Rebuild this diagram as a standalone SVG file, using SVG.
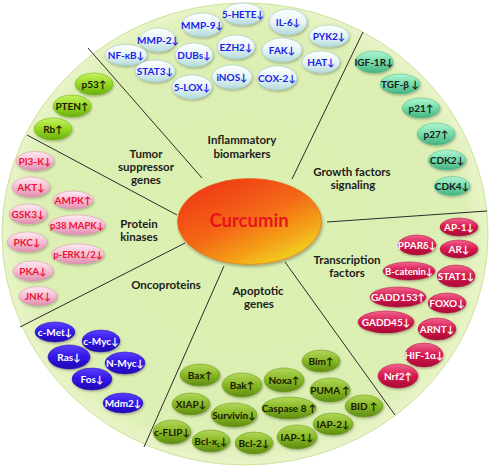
<svg xmlns="http://www.w3.org/2000/svg" width="490" height="469" viewBox="0 0 490 469">
<defs>
<style>
text{font-family:Lato,"Liberation Sans",Arial,"DejaVu Sans",sans-serif;font-weight:bold;text-anchor:middle}
.p text{font-size:10px}
.p text.w{font-size:9.5px}
.p ellipse{filter:url(#sh)}
.sec{font-size:11.5px;fill:#1c1c1c}
.inf ellipse{fill:url(#gInf);stroke:#9fc9c9;stroke-width:.6}
.inf text{fill:#1c1ce8}
.ts ellipse{fill:url(#gTs);stroke:#6fb512;stroke-width:.5}
.ts text{fill:#1a1a00}
.pk ellipse{fill:url(#gPk);stroke:#d890ae;stroke-width:.5}
.pk text{fill:#ee1234}
.onc ellipse{fill:url(#gOnc);stroke:#2410b0;stroke-width:.5}
.onc text{fill:#ffffff}
.apo ellipse{fill:url(#gApo);stroke:#6b951a;stroke-width:.5}
.apo text{fill:#1a1a00}
.tf ellipse{fill:url(#gTf);stroke:#b0103c;stroke-width:.5}
.tf text{fill:#ffffff}
.gf ellipse{fill:url(#gGf);stroke:#4fb888;stroke-width:.5}
.gf text{fill:#1a1a1a}
#connectors line{stroke:#2a2a2a;stroke-width:1}
</style>
<filter id="sh" x="-20%" y="-20%" width="140%" height="150%"><feDropShadow dx="0.8" dy="1.4" stdDeviation="0.9" flood-color="#000" flood-opacity="0.28"/></filter>
<filter id="sh2" x="-10%" y="-10%" width="120%" height="130%"><feDropShadow dx="1" dy="2" stdDeviation="1.5" flood-color="#000" flood-opacity="0.3"/></filter>
<linearGradient id="gInf" x1="0" y1="0" x2="0" y2="1"><stop offset="0" stop-color="#ffffff"/><stop offset="0.55" stop-color="#e4f3f3"/><stop offset="1" stop-color="#b2dada"/></linearGradient>
<linearGradient id="gTs" x1="0" y1="0" x2="0" y2="1"><stop offset="0" stop-color="#c6f266"/><stop offset="0.5" stop-color="#96d922"/><stop offset="1" stop-color="#68ae0e"/></linearGradient>
<linearGradient id="gPk" x1="0" y1="0" x2="0" y2="1"><stop offset="0" stop-color="#fdeaf2"/><stop offset="0.5" stop-color="#f5bfd4"/><stop offset="1" stop-color="#e08eb0"/></linearGradient>
<linearGradient id="gOnc" x1="0" y1="0" x2="0" y2="1"><stop offset="0" stop-color="#5a40ff"/><stop offset="0.5" stop-color="#3216e6"/><stop offset="1" stop-color="#2008b0"/></linearGradient>
<linearGradient id="gApo" x1="0" y1="0" x2="0" y2="1"><stop offset="0" stop-color="#b2d85a"/><stop offset="0.5" stop-color="#88b826"/><stop offset="1" stop-color="#5e8c12"/></linearGradient>
<linearGradient id="gTf" x1="0" y1="0" x2="0" y2="1"><stop offset="0" stop-color="#f06490"/><stop offset="0.5" stop-color="#d8184e"/><stop offset="1" stop-color="#a80a36"/></linearGradient>
<linearGradient id="gGf" x1="0" y1="0" x2="0" y2="1"><stop offset="0" stop-color="#b0f4d2"/><stop offset="0.5" stop-color="#74dcaa"/><stop offset="1" stop-color="#44b280"/></linearGradient>
<linearGradient id="gCur" x1="0.15" y1="0.1" x2="0.85" y2="1"><stop offset="0" stop-color="#f03a12"/><stop offset="0.45" stop-color="#f46a12"/><stop offset="0.75" stop-color="#f4a81a"/><stop offset="1" stop-color="#f0e424"/></linearGradient>
<radialGradient id="gBg" cx="0.5" cy="0.5" r="0.5"><stop offset="0" stop-color="#daf0b0"/><stop offset="0.9" stop-color="#ddefb4"/><stop offset="1" stop-color="#e8f4c8"/></radialGradient>
</defs>
<rect width="490" height="469" fill="#ffffff"/>
<ellipse id="background" cx="245" cy="234" rx="243" ry="231" fill="url(#gBg)" stroke="#cde29a" stroke-width="1"/>

<g id="connectors">
<line x1="88" y1="48" x2="202" y2="178"/>
<line x1="363" y1="32" x2="292" y2="179"/>
<line x1="327" y1="222" x2="487" y2="211"/>
<line x1="285" y1="262" x2="395" y2="415"/>
<line x1="224" y1="266" x2="144" y2="447"/>
<line x1="185" y1="243" x2="20" y2="327"/>
<line x1="27" y1="135" x2="177" y2="215"/>
</g>

<g id="curcumin">
<ellipse cx="249.5" cy="221.5" rx="72" ry="43" fill="url(#gCur)" stroke="#e86a10" stroke-width="0.6" filter="url(#sh2)"/>
<text x="249" y="227" font-size="18.5" fill="#e8141c" font-family="'Liberation Sans',Arial,sans-serif">Curcumin</text>
</g>

<g id="labels">
<text class="sec" x="242" y="144">Inflammatory</text>
<text class="sec" x="242" y="158">biomarkers</text>
<text class="sec" x="146" y="158">Tumor</text>
<text class="sec" x="146" y="171">suppressor</text>
<text class="sec" x="146" y="184">genes</text>
<text class="sec" x="352" y="176">Growth factors</text>
<text class="sec" x="353" y="189">signaling</text>
<text class="sec" x="347" y="264">Transcription</text>
<text class="sec" x="347" y="277">factors</text>
<text class="sec" x="139" y="228">Protein</text>
<text class="sec" x="139" y="241">kinases</text>
<text class="sec" x="166" y="289">Oncoproteins</text>
<text class="sec" x="258" y="295">Apoptotic</text>
<text class="sec" x="259" y="308">genes</text>
</g>

<g id="inflammatory">
<g id="n-mmp9" class="p inf"><ellipse cx="202" cy="25" rx="20" ry="12"/><text x="202" y="28.5">MMP-9↓</text></g>
<g id="n-5hete" class="p inf"><ellipse cx="243" cy="14" rx="20" ry="11"/><text x="243" y="17.5">5-HETE↓</text></g>
<g id="n-il6" class="p inf"><ellipse cx="288" cy="22" rx="19" ry="13"/><text x="288" y="25.5">IL-6↓</text></g>
<g id="n-pyk2" class="p inf"><ellipse cx="329" cy="36" rx="20" ry="11"/><text x="329" y="39.5">PYK2↓</text></g>
<g id="n-mmp2" class="p inf"><ellipse cx="158" cy="40" rx="18" ry="12"/><text x="158" y="43.5">MMP-2↓</text></g>
<g id="n-ezh2" class="p inf"><ellipse cx="236" cy="47" rx="19" ry="12"/><text x="236" y="50.5">EZH2↓</text></g>
<g id="n-fak" class="p inf"><ellipse cx="282" cy="50" rx="20" ry="12"/><text x="282" y="53.5">FAK↓</text></g>
<g id="n-hat" class="p inf"><ellipse cx="321" cy="62" rx="19" ry="11"/><text x="321" y="65.5">HAT↓</text></g>
<g id="n-nfkb" class="p inf"><ellipse cx="126" cy="55" rx="21" ry="10.5"/><text x="126" y="58.5">NF-κB↓</text></g>
<g id="n-dubs" class="p inf"><ellipse cx="194" cy="55" rx="19" ry="12"/><text x="194" y="58.5">DUBs↓</text></g>
<g id="n-stat3" class="p inf"><ellipse cx="155" cy="71" rx="20" ry="11"/><text x="155" y="74.5">STAT3↓</text></g>
<g id="n-inos" class="p inf"><ellipse cx="232" cy="77" rx="20" ry="12"/><text x="232" y="80.5">iNOS↓</text></g>
<g id="n-cox2" class="p inf"><ellipse cx="277" cy="78" rx="20" ry="12"/><text x="277" y="81.5">COX-2↓</text></g>
<g id="n-5lox" class="p inf"><ellipse cx="192" cy="87" rx="20" ry="12"/><text x="192" y="90.5">5-LOX↓</text></g>
</g>

<g id="tumor-suppressor">
<g id="n-p53" class="p ts"><ellipse cx="94" cy="84" rx="19" ry="11"/><text x="94" y="87.5">p53↑</text></g>
<g id="n-pten" class="p ts"><ellipse cx="72" cy="106" rx="19" ry="11"/><text x="72" y="109.5">PTEN↑</text></g>
<g id="n-rb" class="p ts"><ellipse cx="53" cy="129" rx="19" ry="11"/><text x="53" y="132.5">Rb↑</text></g>
</g>

<g id="protein-kinases">
<g id="n-pi3k" class="p pk"><ellipse cx="35" cy="161" rx="19" ry="9.5"/><text x="35" y="164.5">PI3-K↓</text></g>
<g id="n-akt" class="p pk"><ellipse cx="31" cy="187" rx="19" ry="10"/><text x="31" y="190.5">AKT↓</text></g>
<g id="n-gsk3" class="p pk"><ellipse cx="28" cy="214" rx="19" ry="10"/><text x="28" y="217.5">GSK3↓</text></g>
<g id="n-pkc" class="p pk"><ellipse cx="27" cy="242" rx="20" ry="10"/><text x="27" y="245.5">PKC↓</text></g>
<g id="n-pka" class="p pk"><ellipse cx="33" cy="271" rx="20" ry="10"/><text x="33" y="274.5">PKA↓</text></g>
<g id="n-jnk" class="p pk"><ellipse cx="38" cy="296" rx="19" ry="9.5"/><text x="38" y="299.5">JNK↓</text></g>
<g id="n-ampk" class="p pk"><ellipse cx="73" cy="200" rx="20" ry="9"/><text x="73" y="203.5">AMPK↑</text></g>
<g id="n-p38" class="p pk"><ellipse cx="77" cy="225" rx="28" ry="10"/><text class="w" x="77" y="228.5">p38 MAPK↓</text></g>
<g id="n-perk" class="p pk"><ellipse cx="78" cy="254" rx="26" ry="10"/><text class="w" x="78" y="257.5">p-ERK1/2↓</text></g>
</g>

<g id="oncoproteins">
<g id="n-cmet" class="p onc"><ellipse cx="55" cy="332" rx="20" ry="10"/><text x="55" y="335.5">c-Met↓</text></g>
<g id="n-cmyc" class="p onc"><ellipse cx="101" cy="341" rx="19" ry="11"/><text x="101" y="344.5">c-Myc↓</text></g>
<g id="n-ras" class="p onc"><ellipse cx="69" cy="357" rx="21" ry="12"/><text x="69" y="360.5">Ras↓</text></g>
<g id="n-nmyc" class="p onc"><ellipse cx="125" cy="363" rx="20" ry="11"/><text x="125" y="366.5">N-Myc↓</text></g>
<g id="n-fos" class="p onc"><ellipse cx="92" cy="379" rx="20" ry="11"/><text x="92" y="382.5">Fos↓</text></g>
<g id="n-mdm2" class="p onc"><ellipse cx="123" cy="403" rx="20" ry="10"/><text x="123" y="406.5">Mdm2↓</text></g>
</g>

<g id="apoptotic">
<g id="n-bax" class="p apo"><ellipse cx="200" cy="375" rx="20" ry="11"/><text x="200" y="378.5">Bax↑</text></g>
<g id="n-bak" class="p apo"><ellipse cx="242" cy="385" rx="20" ry="12"/><text x="242" y="388.5">Bak↑</text></g>
<g id="n-noxa" class="p apo"><ellipse cx="284" cy="380" rx="20" ry="12"/><text x="284" y="383.5">Noxa↑</text></g>
<g id="n-bim" class="p apo"><ellipse cx="321" cy="361" rx="19" ry="11"/><text x="321" y="364.5">Bim↑</text></g>
<g id="n-puma" class="p apo"><ellipse cx="330" cy="390" rx="20" ry="12"/><text x="330" y="393.5">PUMA ↑</text></g>
<g id="n-bid" class="p apo"><ellipse cx="364" cy="406" rx="19" ry="11"/><text x="364" y="409.5">BID ↑</text></g>
<g id="n-xiap" class="p apo"><ellipse cx="191" cy="404" rx="19" ry="11"/><text x="191" y="407.5">XIAP↓</text></g>
<g id="n-survivin" class="p apo"><ellipse cx="234" cy="415" rx="23" ry="12"/><text x="234" y="418.5">Survivin↓</text></g>
<g id="n-casp8" class="p apo"><ellipse cx="289" cy="408" rx="27" ry="11"/><text x="289" y="411.5">Caspase 8 ↑</text></g>
<g id="n-iap2" class="p apo"><ellipse cx="333" cy="424" rx="20" ry="11"/><text x="333" y="427.5">IAP-2↓</text></g>
<g id="n-cflip" class="p apo"><ellipse cx="172" cy="432" rx="19" ry="12"/><text x="172" y="435.5">c-FLIP↓</text></g>
<g id="n-bclxl" class="p apo"><ellipse cx="211" cy="441" rx="19" ry="11"/><text x="211" y="444.5">Bcl-x<tspan font-size="6" dy="2">L</tspan><tspan dy="-2">↓</tspan></text></g>
<g id="n-bcl2" class="p apo"><ellipse cx="254" cy="443" rx="19" ry="11"/><text x="254" y="446.5">Bcl-2↓</text></g>
<g id="n-iap1" class="p apo"><ellipse cx="297" cy="437" rx="20" ry="12"/><text x="297" y="440.5">IAP-1↓</text></g>
</g>

<g id="transcription-factors">
<g id="n-ap1" class="p tf"><ellipse cx="459" cy="227" rx="19" ry="9"/><text x="459" y="230.5">AP-1↓</text></g>
<g id="n-ppard" class="p tf"><ellipse cx="417" cy="245" rx="19" ry="10"/><text x="417" y="248.5">PPARδ↓</text></g>
<g id="n-ar" class="p tf"><ellipse cx="459" cy="249" rx="19" ry="9"/><text x="459" y="252.5">AR↓</text></g>
<g id="n-bcat" class="p tf"><ellipse cx="409" cy="271" rx="26" ry="9"/><text class="w" x="409" y="274.5">B-catenin↓</text></g>
<g id="n-stat1" class="p tf"><ellipse cx="456" cy="276" rx="19" ry="11"/><text x="456" y="279.5">STAT1↓</text></g>
<g id="n-gadd153" class="p tf"><ellipse cx="398" cy="297" rx="28" ry="10"/><text x="398" y="300.5">GADD153↑</text></g>
<g id="n-foxo" class="p tf"><ellipse cx="447" cy="303" rx="19" ry="10"/><text x="447" y="306.5">FOXO↓</text></g>
<g id="n-gadd45" class="p tf"><ellipse cx="386" cy="322" rx="28" ry="11"/><text x="386" y="325.5">GADD45↓</text></g>
<g id="n-arnt" class="p tf"><ellipse cx="437" cy="329" rx="19" ry="11"/><text x="437" y="332.5">ARNT↓</text></g>
<g id="n-hif" class="p tf"><ellipse cx="424" cy="355" rx="19" ry="12"/><text x="424" y="358.5">HIF-1α↓</text></g>
<g id="n-nrf2" class="p tf"><ellipse cx="398" cy="376" rx="20" ry="12"/><text x="398" y="379.5">Nrf2↑</text></g>
</g>

<g id="growth-factors">
<g id="n-igf1r" class="p gf"><ellipse cx="374" cy="62" rx="19" ry="11"/><text x="374" y="65.5">IGF-1R↓</text></g>
<g id="n-tgfb" class="p gf"><ellipse cx="400" cy="84" rx="20" ry="10"/><text x="400" y="87.5">TGF-β ↓</text></g>
<g id="n-p21" class="p gf"><ellipse cx="421" cy="108" rx="19" ry="10"/><text x="421" y="111.5">p21↑</text></g>
<g id="n-p27" class="p gf"><ellipse cx="436" cy="134" rx="19" ry="11"/><text x="436" y="137.5">p27↑</text></g>
<g id="n-cdk2" class="p gf"><ellipse cx="447" cy="160" rx="19" ry="10"/><text x="447" y="163.5">CDK2↓</text></g>
<g id="n-cdk4" class="p gf"><ellipse cx="452" cy="186" rx="18" ry="9.5"/><text x="452" y="189.5">CDK4↓</text></g>
</g>
</svg>
